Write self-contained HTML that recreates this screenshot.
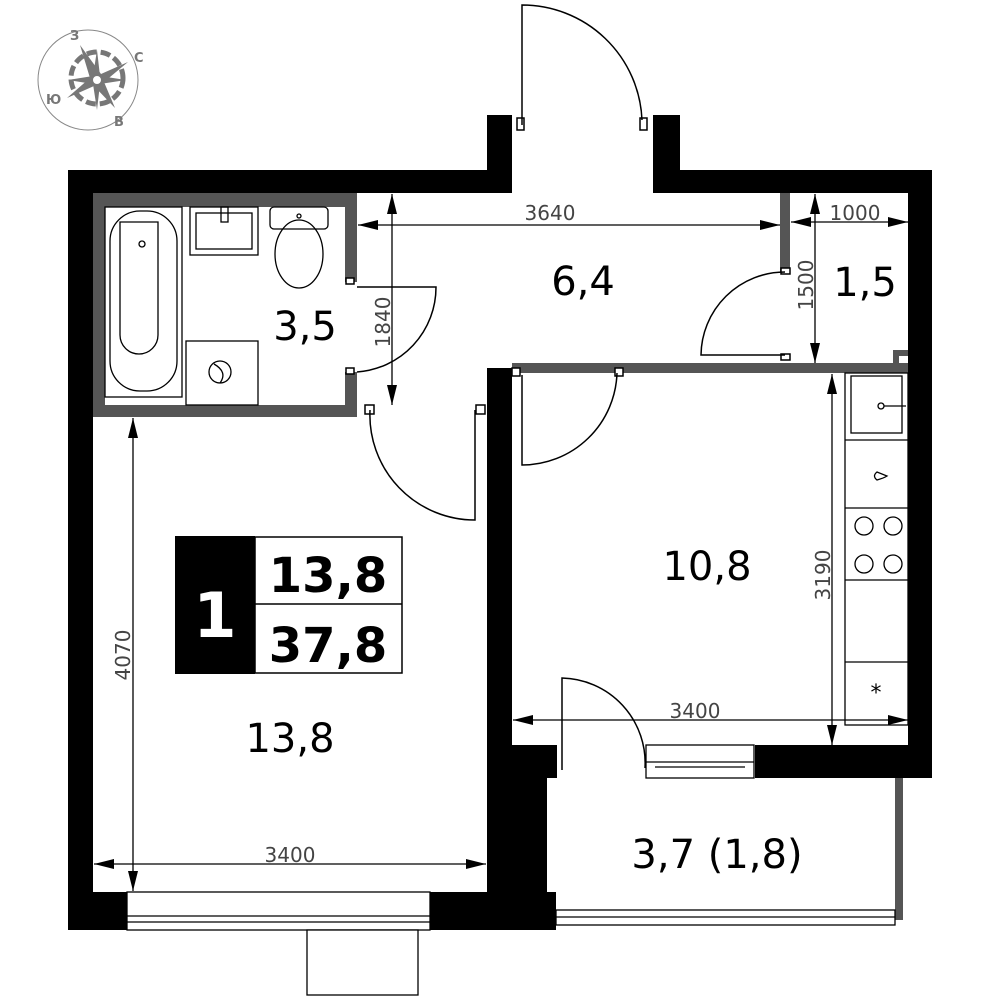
<!DOCTYPE html>
<html><head><meta charset="utf-8"><style>
html,body{margin:0;padding:0;background:#fff;}
svg{display:block}
text{font-family:"DejaVu Sans","Liberation Sans",sans-serif;}
</style></head><body>
<svg width="1000" height="1000" viewBox="0 0 1000 1000" xmlns="http://www.w3.org/2000/svg">
<defs>
<marker id="a" viewBox="0 0 20 10" refX="20" refY="5" markerWidth="20" markerHeight="10" markerUnits="userSpaceOnUse" orient="auto-start-reverse"><path d="M0,0 L20,5 L0,10 z" fill="#000"/></marker>
</defs>
<!-- compass -->
<circle cx="88" cy="80" r="50" fill="none" stroke="#888" stroke-width="1"/>
<g fill="#777">
<circle cx="97" cy="78" r="26" fill="none" stroke="#777" stroke-width="5" stroke-dasharray="10 4"/>
<polygon points="80,45 101,74 128,62 104,82 115,108 94,86 67,98 90,78"/>
<polygon points="97,50 100,76 126,80 100,84 97,110 93,84 68,80 93,76"/>
<circle cx="97" cy="80" r="5" fill="#fff" stroke="#777" stroke-width="2"/>
</g>
<g fill="#777" font-size="13" font-weight="bold">
<text x="70" y="40">З</text><text x="134" y="62">С</text><text x="46" y="104">Ю</text><text x="114" y="126">В</text>
</g>
<!-- gray partitions -->
<g fill="#555">
<rect x="93" y="193" width="264" height="14"/>
<rect x="93" y="193" width="12" height="224"/>
<rect x="93" y="405" width="264" height="12"/>
<rect x="345" y="193" width="12" height="89"/>
<rect x="345" y="372" width="12" height="45"/>
<rect x="780" y="193" width="10" height="79"/>
<rect x="512" y="363" width="396" height="10"/>
<rect x="893" y="350" width="15" height="6"/>
<rect x="893" y="350" width="6" height="20"/>
<rect x="895" y="778" width="8" height="142"/>
</g>
<!-- black walls -->
<g fill="#000">
<rect x="68" y="170" width="25" height="760"/>
<rect x="68" y="170" width="444" height="23"/>
<rect x="487" y="115" width="25" height="78"/>
<rect x="653" y="115" width="27" height="78"/>
<rect x="653" y="170" width="279" height="23"/>
<rect x="908" y="170" width="24" height="608"/>
<rect x="755" y="745" width="177" height="33"/>
<rect x="487" y="368" width="25" height="410"/>
<rect x="487" y="745" width="70" height="33"/>
<rect x="487" y="778" width="60" height="152"/>
<rect x="430" y="892" width="126" height="38"/>
<rect x="68" y="892" width="59" height="38"/>
</g>
<g fill="#fff" stroke="#000" stroke-width="1.5">
<rect x="517" y="118" width="7" height="12"/>
<rect x="640" y="118" width="7" height="12"/>
<rect x="512" y="368" width="8" height="8"/>
<rect x="615" y="368" width="8" height="8"/>
<rect x="476" y="405" width="9" height="9"/>
<rect x="365" y="405" width="9" height="9"/>
<rect x="346" y="278" width="8" height="6"/>
<rect x="346" y="368" width="8" height="6"/>
<rect x="781" y="268" width="9" height="6"/>
<rect x="781" y="354" width="9" height="6"/>
</g>
<!-- doors -->
<g fill="none" stroke="#000" stroke-width="1.5">
<path d="M522,125 V5 A120,120 0 0 1 642,120"/>
<path d="M357,287 H436 A85,85 0 0 1 357,372"/>
<path d="M475,410 V520 A105,105 0 0 1 370,410"/>
<path d="M522,375 V465 A95,95 0 0 0 617,373"/>
<path d="M785,355 H701 A84,84 0 0 1 785,272"/>
<path d="M562,770 V678 A85,85 0 0 1 645,768"/>
</g>
<!-- windows -->
<g fill="#fff" stroke="#000" stroke-width="1.3">
<rect x="127" y="892" width="303" height="38"/>
<line x1="127" y1="916" x2="430" y2="916"/>
<line x1="127" y1="922" x2="430" y2="922"/>
<rect x="307" y="930" width="111" height="65"/>
<rect x="646" y="745" width="108" height="33"/>
<line x1="646" y1="762" x2="754" y2="762"/>
<line x1="655" y1="767" x2="745" y2="767"/>
<rect x="556" y="910" width="339" height="15"/>
<line x1="556" y1="917" x2="895" y2="917"/>
</g>
<!-- bathroom fixtures -->
<g fill="none" stroke="#000" stroke-width="1.3">
<rect x="105" y="207" width="77" height="190"/>
<rect x="110" y="211" width="67" height="180" rx="30"/>
<path d="M120,222 H158 V335 A19,19 0 0 1 120,335 Z"/>
<circle cx="142" cy="244" r="3"/>
<rect x="190" y="207" width="68" height="48"/>
<rect x="196" y="213" width="56" height="36"/>
<rect x="221" y="207" width="7" height="15"/>
<rect x="270" y="207" width="58" height="22" rx="4"/>
<circle cx="299" cy="216" r="2"/>
<ellipse cx="299" cy="254" rx="24" ry="34"/>
<rect x="186" y="341" width="72" height="64"/>
<circle cx="220" cy="372" r="11"/>
<path d="M214,364 Q228,372 220,383"/>
</g>
<!-- kitchen -->
<g fill="none" stroke="#000" stroke-width="1.3">
<rect x="845" y="373" width="63" height="352"/>
<rect x="851" y="376" width="51" height="57"/>
<line x1="845" y1="440" x2="908" y2="440"/>
<line x1="845" y1="508" x2="908" y2="508"/>
<line x1="845" y1="580" x2="908" y2="580"/>
<line x1="845" y1="662" x2="908" y2="662"/>
<circle cx="881" cy="406" r="3"/><line x1="884" y1="406" x2="906" y2="406"/>
<path d="M877,472 Q872,476 877,480 Q884,478 887,476 Z"/>
<circle cx="864" cy="526" r="9"/><circle cx="893" cy="526" r="9"/>
<circle cx="864" cy="564" r="9"/><circle cx="893" cy="564" r="9"/>
</g>
<text x="876" y="700" font-size="22" text-anchor="middle">*</text>
<!-- dimension lines -->
<g stroke="#000" stroke-width="1.3" marker-start="url(#a)" marker-end="url(#a)">
<line x1="358" y1="225" x2="780" y2="225"/>
<line x1="392" y1="194" x2="392" y2="405"/>
<line x1="791" y1="222" x2="908" y2="222"/>
<line x1="815" y1="194" x2="815" y2="363"/>
<line x1="832" y1="374" x2="832" y2="745"/>
<line x1="513" y1="720" x2="908" y2="720"/>
<line x1="133" y1="418" x2="133" y2="891"/>
<line x1="94" y1="864" x2="486" y2="864"/>
</g>
<g fill="#444" font-size="20">
<text x="550" y="220" text-anchor="middle">3640</text>
<text x="855" y="220" text-anchor="middle">1000</text>
<text x="695" y="718" text-anchor="middle">3400</text>
<text x="290" y="862" text-anchor="middle">3400</text>
<text transform="translate(390,322) rotate(-90)" text-anchor="middle">1840</text>
<text transform="translate(813,285) rotate(-90)" text-anchor="middle">1500</text>
<text transform="translate(830,575) rotate(-90)" text-anchor="middle">3190</text>
<text transform="translate(130,655) rotate(-90)" text-anchor="middle">4070</text>
</g>
<g fill="#000" font-size="40" text-anchor="middle">
<text x="583" y="295">6,4</text>
<text x="305" y="340">3,5</text>
<text x="865" y="296">1,5</text>
<text x="707" y="580">10,8</text>
<text x="290" y="752">13,8</text>
<text x="717" y="868">3,7 (1,8)</text>
</g>
<!-- label -->
<rect x="175" y="536" width="80" height="138" fill="#000"/>
<rect x="255" y="537" width="147" height="136" fill="#fff" stroke="#000" stroke-width="1.5"/>
<line x1="255" y1="604" x2="402" y2="604" stroke="#000" stroke-width="1.5"/>
<g font-weight="bold" text-anchor="middle">
<text x="215" y="637" font-size="62" fill="#fff">1</text>
<text x="328" y="592" font-size="48">13,8</text>
<text x="328" y="662" font-size="48">37,8</text>
</g>
</svg>
</body></html>
